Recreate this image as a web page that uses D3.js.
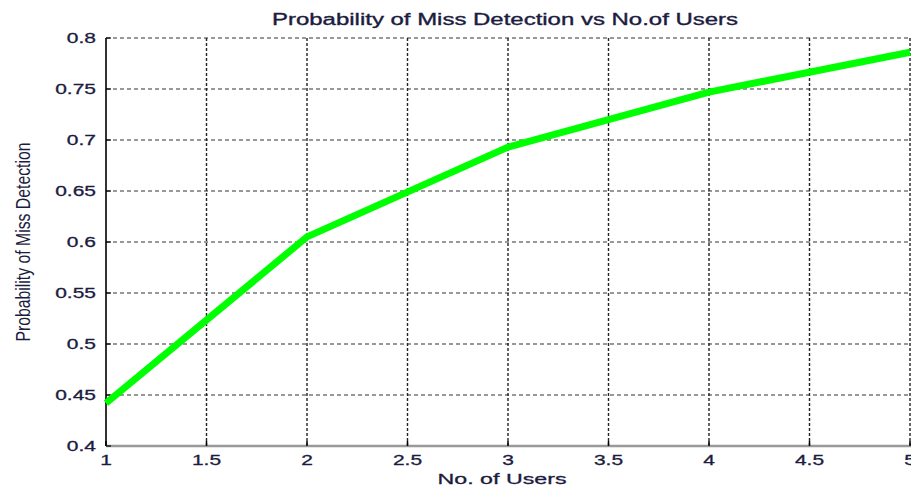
<!DOCTYPE html>
<html><head><meta charset="utf-8">
<script src="https://cdn.jsdelivr.net/npm/d3@7"></script>
<style>body{margin:0;background:#fff;} text{font-family:"Liberation Sans",Arial,sans-serif;}</style>
</head><body><svg id="c" width="911" height="490"></svg>
<script>
const users = [1, 2, 3, 4, 5];
const pmd = [0.442, 0.605, 0.693, 0.747, 0.786];
const xTicks = [1, 1.5, 2, 2.5, 3, 3.5, 4, 4.5, 5];
const yTicks = [0.4, 0.45, 0.5, 0.55, 0.6, 0.65, 0.7, 0.75, 0.8];
const title = "Probability of Miss Detection vs No.of Users";
const xLabel = "No. of Users";
const yLabel = "Probability of Miss Detection";

const svg = d3.select("#c");
const L = 106, R = 910, T = 38, B = 446;
const x = d3.scaleLinear().domain([1, 5]).range([L, R]);
const y = d3.scaleLinear().domain([0.4, 0.8]).range([B, T]);
const txt = "#1c1c40";

// horizontal grid
svg.append("g").selectAll("line").data(yTicks.filter(d => d > 0.4)).join("line")
  .attr("x1", L).attr("x2", R).attr("y1", d => y(d)).attr("y2", d => y(d))
  .attr("stroke", "#777").attr("stroke-width", 1.4).attr("stroke-dasharray", "4,3");
// vertical grid
svg.append("g").selectAll("line").data(xTicks.filter(d => d > 1)).join("line")
  .attr("y1", T).attr("y2", B).attr("x1", d => x(d)).attr("x2", d => x(d))
  .attr("stroke", "#222").attr("stroke-width", 1.4).attr("stroke-dasharray", "3,2");

// axes lines
svg.append("line").attr("x1", L).attr("x2", L).attr("y1", T).attr("y2", B)
  .attr("stroke", "#000").attr("stroke-width", 1.6);
svg.append("line").attr("x1", L).attr("x2", R + 1).attr("y1", B).attr("y2", B)
  .attr("stroke", "#999").attr("stroke-width", 2.5);

// ticks
svg.append("g").selectAll("line").data(yTicks).join("line")
  .attr("x1", L).attr("x2", L + 5).attr("y1", d => y(d)).attr("y2", d => y(d))
  .attr("stroke", "#000").attr("stroke-width", 1.2);
svg.append("g").selectAll("line").data(xTicks).join("line")
  .attr("y1", B).attr("y2", B - 5).attr("x1", d => x(d)).attr("x2", d => x(d))
  .attr("stroke", "#000").attr("stroke-width", 1.5);

// tick labels (wide, as in the reference)
svg.append("g").selectAll("text").data(yTicks).join("text")
  .attr("transform", d => `translate(${L - 10},${y(d)}) scale(1.4,1)`).attr("dy", "0.36em")
  .attr("text-anchor", "end").attr("font-size", 15).attr("fill", txt)
  .attr("stroke", txt).attr("stroke-width", 0.3)
  .text(d => String(d));
svg.append("g").selectAll("text").data(xTicks).join("text")
  .attr("transform", d => `translate(${x(d)},${B + 19}) scale(1.4,1)`)
  .attr("text-anchor", "middle").attr("font-size", 15).attr("fill", txt)
  .attr("stroke", txt).attr("stroke-width", 0.3)
  .text(d => String(d));

// line
svg.append("path").datum(users.map((u, i) => [u, pmd[i]]))
  .attr("d", d3.line().x(d => x(d[0])).y(d => y(d[1])))
  .attr("fill", "none").attr("stroke", "#00ff00").attr("stroke-width", 7)
  .attr("stroke-linejoin", "round");

// labels
svg.append("text").attr("x", 505).attr("y", 25).attr("text-anchor", "middle")
  .attr("font-size", 16).attr("fill", txt).attr("stroke", txt).attr("stroke-width", 0.35)
  .attr("textLength", 466).attr("lengthAdjust", "spacingAndGlyphs").text(title);
svg.append("text").attr("x", 502).attr("y", 484).attr("text-anchor", "middle")
  .attr("font-size", 15).attr("fill", txt).attr("stroke", txt).attr("stroke-width", 0.3)
  .attr("textLength", 129).attr("lengthAdjust", "spacingAndGlyphs").text(xLabel);
svg.append("text").attr("transform", "translate(30,242) rotate(-90)")
  .attr("text-anchor", "middle").attr("font-size", 20).attr("fill", txt)
  .attr("textLength", 199).attr("lengthAdjust", "spacingAndGlyphs").text(yLabel);
</script></body></html>
